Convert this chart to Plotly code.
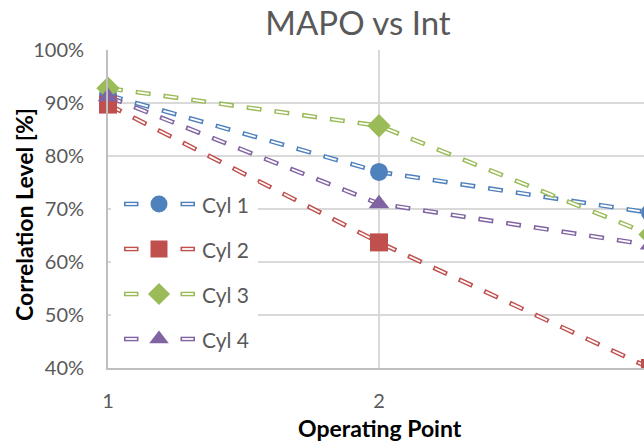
import plotly.graph_objects as go

# Operating points and correlation levels per cylinder
points = [1, 2, 3]
cylinders = ["Cyl 1", "Cyl 2", "Cyl 3", "Cyl 4"]
cyl1 = [0.915, 0.770, 0.693]
cyl2 = [0.897, 0.637, 0.400]
cyl3 = [0.928, 0.857, 0.652]
cyl4 = [0.912, 0.710, 0.632]
series = [cyl1, cyl2, cyl3, cyl4]

colors = ["#4f81bd", "#c0504d", "#9bbb59", "#8064a2"]
symbols = ["circle", "square", "diamond", "triangle-up"]
y_ticks = [0.4, 0.5, 0.6, 0.7, 0.8, 0.9, 1.0]

FONT = "Lato"
GREY = "#595959"
OUTER_W, INNER_W = 4.6, 1.8
OUTER_DASH = "15px,13px"
INNER_DASH = "0px,1.6px,11.8px,14.6px"
MARKER_SIZE = 18

# plot area in pixels; one operating point spans UNIT px
L, R, T, B = 108, 644, 50, 368
UNIT = 271
X_RANGE = [1, 1 + (R - L) / UNIT]
Y_RANGE = [0.4, 1.0]

fig = go.Figure()

# hollow dashed lines: coloured dash with a thinner white dash on top
for name, vals, col in zip(cylinders, series, colors):
    fig.add_trace(go.Scatter(x=points, y=vals, mode="lines", name=name,
                             line=dict(color=col, width=OUTER_W, dash=OUTER_DASH),
                             showlegend=False, hoverinfo="skip"))
    fig.add_trace(go.Scatter(x=points, y=vals, mode="lines",
                             line=dict(color="white", width=INNER_W, dash=INNER_DASH),
                             showlegend=False, hoverinfo="skip"))

# markers inside the visible x range may overhang the axes; the last point
# lies past the right edge, so it goes on an overlaid copy of the axes
# where it is simply clipped by the plot area
for name, vals, col, sym in zip(cylinders, series, colors, symbols):
    mk = dict(color=col, symbol=sym, size=MARKER_SIZE, line=dict(width=0))
    fig.add_trace(go.Scatter(x=points[:2], y=vals[:2], mode="markers", name=name,
                             marker=mk, cliponaxis=False, showlegend=False))
    fig.add_trace(go.Scatter(x=points[2:], y=vals[2:], mode="markers", name=name,
                             xaxis="x3", yaxis="y3", marker=mk, cliponaxis=True,
                             showlegend=False))

# legend panel drawn on an extra axis pair measured in pixels of the plot area
box_x = [111, 258, 258, 111, 111]
box_y = [182, 182, 366, 366, 182]
fig.add_trace(go.Scatter(x=box_x, y=box_y, xaxis="x2", yaxis="y2", mode="lines",
                         fill="toself", fillcolor="white", line=dict(width=0),
                         showlegend=False, hoverinfo="skip"))
row_y = [204, 249, 294, 339]
for name, col, sym, ry in zip(cylinders, colors, symbols, row_y):
    for x0, x1 in [(124, 138.5), (180.5, 195)]:
        fig.add_trace(go.Scatter(x=[x0, x1], y=[ry, ry], xaxis="x2", yaxis="y2", mode="lines",
                                 line=dict(color=col, width=OUTER_W), showlegend=False,
                                 hoverinfo="skip"))
        fig.add_trace(go.Scatter(x=[x0 + 1.6, x1 - 1.6], y=[ry, ry], xaxis="x2", yaxis="y2",
                                 mode="lines", line=dict(color="white", width=INNER_W),
                                 showlegend=False, hoverinfo="skip"))
    fig.add_trace(go.Scatter(x=[159], y=[ry], xaxis="x2", yaxis="y2", mode="markers",
                             marker=dict(color=col, symbol=sym, size=MARKER_SIZE - 1,
                                         line=dict(width=0)),
                             showlegend=False, hoverinfo="skip"))
    fig.add_annotation(x=200, y=ry, xref="x2", yref="y2", text=name, showarrow=False,
                       xanchor="left", yanchor="middle",
                       font=dict(family=FONT, size=21, color=GREY))

fig.update_layout(
    width=644, height=441,
    margin=dict(l=L, r=0, t=T, b=441 - B),
    paper_bgcolor="white", plot_bgcolor="rgba(0,0,0,0)",
    font=dict(family=FONT, color=GREY),
    title=dict(text="MAPO vs Int", x=358 / 644, xanchor="center", y=1 - 23 / 441,
               yanchor="middle", font=dict(family=FONT, size=33, color=GREY)),
    xaxis=dict(range=X_RANGE, tickvals=points,
               ticktext=[str(p) for p in points], showgrid=True, gridcolor="#d9d9d9",
               gridwidth=1.5, showline=True, linecolor="#bfbfbf", linewidth=1.8,
               zeroline=False, ticks="", ticklabelstandoff=14,
               tickfont=dict(family=FONT, size=20, color=GREY)),
    yaxis=dict(range=Y_RANGE, tickvals=y_ticks, tickformat=".0%", showgrid=True,
               gridcolor="#d9d9d9", gridwidth=1.5, showline=True, linecolor="#bfbfbf",
               linewidth=1.8, zeroline=False, ticks="", ticklabelstandoff=18,
               tickfont=dict(family=FONT, size=20, color=GREY)),
    xaxis2=dict(domain=[0, 1], range=[L, R], anchor="y2", visible=False, fixedrange=True),
    yaxis2=dict(domain=[0, 1], range=[B, T], anchor="x2", visible=False, fixedrange=True),
    xaxis3=dict(overlaying="x", range=X_RANGE, anchor="y3", visible=False),
    yaxis3=dict(overlaying="y", range=Y_RANGE, anchor="x3", visible=False),
)

# axis titles, positioned in paper units of the plot area
fig.add_annotation(x=(380 - L) / (R - L), y=(B - 428) / (B - T), xref="paper", yref="paper",
                   text="<b>Operating Point</b>", showarrow=False, xanchor="center",
                   yanchor="middle", font=dict(family=FONT, size=23, color="black"))
fig.add_annotation(x=(24 - L) / (R - L), y=(B - 215) / (B - T), xref="paper", yref="paper",
                   text="<b>Correlation Level [%]</b>", showarrow=False, textangle=-90,
                   xanchor="center", yanchor="middle",
                   font=dict(family=FONT, size=23, color="black"))

fig.write_html("out.html")
